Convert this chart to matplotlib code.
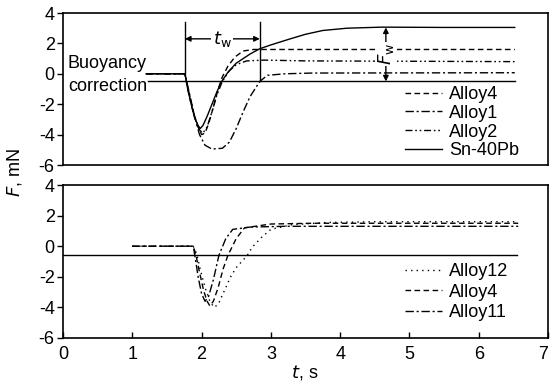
import numpy as np
import matplotlib
matplotlib.use("Agg")
import matplotlib.pyplot as plt

plt.rcParams["font.family"] = ["Liberation Sans", "DejaVu Sans"]
plt.rcParams["font.size"] = 13
plt.rcParams["axes.unicode_minus"] = False

# ---- top panel data (t in s, F in mN) ----
sn_t = [1.2, 1.76, 1.8, 1.85, 1.9, 1.95, 1.98, 2.02, 2.08, 2.15, 2.22, 2.29, 2.38, 2.5, 2.6, 2.7,
        2.84, 3.0, 3.28, 3.5, 3.75, 4.1, 4.6, 5.5, 6.52]
sn_f = [0, 0, -1.0, -2.0, -2.9, -3.4, -3.6, -3.4, -2.8, -2.0, -1.2, -0.5, 0.1, 0.7, 1.0, 1.3,
        1.65, 1.9, 2.3, 2.6, 2.85, 3.0, 3.07, 3.05, 3.05]

a4_t = [1.2, 1.76, 1.8, 1.86, 1.93, 2.0, 2.05, 2.1, 2.17, 2.24, 2.3, 2.38, 2.48, 2.6, 2.75, 3.2, 6.52]
a4_f = [0, 0, -1.0, -2.2, -3.3, -4.0, -3.9, -3.3, -2.2, -1.0, -0.2, 0.5, 1.1, 1.5, 1.6, 1.6, 1.6]

a1_t = [1.2, 1.76, 1.82, 1.9, 1.97, 2.05, 2.15, 2.3, 2.4, 2.5, 2.6, 2.7, 2.84, 2.95, 3.2, 3.6, 6.52]
a1_f = [0, 0, -1.2, -2.8, -4.0, -4.7, -4.95, -4.9, -4.5, -3.6, -2.5, -1.5, -0.5, -0.1, 0.0, 0.05, 0.07]

a2_t = [1.2, 1.76, 1.82, 1.9, 1.97, 2.02, 2.08, 2.15, 2.22, 2.3, 2.4, 2.5, 2.65, 2.9, 3.5, 6.52]
a2_f = [0, 0, -1.3, -2.8, -3.7, -3.9, -3.5, -2.5, -1.4, -0.5, 0.2, 0.6, 0.85, 0.9, 0.85, 0.8]

buoy_top = -0.5
tw_start, tw_end = 1.76, 2.84
fw_t = 4.66

# ---- bottom panel data ----
b12_t = [1.0, 1.88, 1.93, 1.98, 2.05, 2.12, 2.18, 2.24, 2.32, 2.42, 2.5, 2.66, 2.73, 2.87, 3.0, 3.3, 3.8, 4.5, 6.57]
b12_f = [0, 0, -0.5, -1.5, -2.7, -3.6, -4.0, -3.8, -3.0, -2.0, -1.4, -0.6, -0.07, 0.6, 1.1, 1.4, 1.55, 1.6, 1.6]

b4_t = [1.0, 1.88, 1.92, 1.97, 2.03, 2.08, 2.12, 2.17, 2.24, 2.31, 2.38, 2.5, 2.62, 3.0, 3.6, 6.57]
b4_f = [0, 0, -0.6, -1.7, -2.9, -3.6, -3.9, -3.6, -2.7, -1.5, -0.6, 0.5, 1.2, 1.45, 1.5, 1.5]

b11_t = [1.0, 1.88, 1.91, 1.95, 2.0, 2.05, 2.1, 2.17, 2.25, 2.35, 2.45, 2.7, 3.2, 6.57]
b11_f = [0, 0, -0.8, -2.0, -3.1, -3.6, -3.3, -2.2, -0.6, 0.5, 1.1, 1.25, 1.3, 1.3]

buoy_bot = -0.6

dash = (0, (4, 2.5))
dashdot = (0, (6, 2, 1.5, 2))
dashdotdot = (0, (5, 2, 1.2, 2, 1.2, 2))
dotted = (0, (1, 3))

fig = plt.figure(figsize=(5.51, 3.88), dpi=100)
ax1 = fig.add_axes([63 / 551, 1 - 165 / 388, 485 / 551, 152 / 388])
ax2 = fig.add_axes([63 / 551, 1 - 338 / 388, 485 / 551, 153 / 388])

lw = 1.0
ax1.plot(a4_t, a4_f, color="k", lw=lw, ls=dash, label="Alloy4")
ax1.plot(a1_t, a1_f, color="k", lw=lw, ls=dashdot, label="Alloy1")
ax1.plot(a2_t, a2_f, color="k", lw=lw, ls=dashdotdot, label="Alloy2")
ax1.plot(sn_t, sn_f, color="k", lw=lw, ls="-", label="Sn-40Pb")
ax1.plot([1.22, 6.52], [buoy_top, buoy_top], color="k", lw=lw)

# t_w markers
ax1.plot([tw_start, tw_start], [3.4, 0], color="k", lw=lw)
ax1.plot([tw_end, tw_end], [3.4, buoy_top], color="k", lw=lw)
ax1.annotate("", xy=(tw_start, 2.3), xytext=(tw_end, 2.3),
             arrowprops=dict(arrowstyle="<|-|>", color="k", lw=lw, shrinkA=0, shrinkB=0,
                             mutation_scale=8))
ax1.text((tw_start + tw_end) / 2, 2.3, r"$t_\mathrm{w}$", ha="center", va="center",
         fontsize=13, bbox=dict(fc="white", ec="none", pad=1))

# F_w marker
ax1.annotate("", xy=(fw_t, 3.05), xytext=(fw_t, buoy_top),
             arrowprops=dict(arrowstyle="<|-|>", color="k", lw=lw, shrinkA=0, shrinkB=0,
                             mutation_scale=8))
ax1.text(fw_t, 1.3, r"$F_\mathrm{w}$", ha="center", va="center", rotation=90,
         fontsize=13, bbox=dict(fc="white", ec="none", pad=0.5))

ax1.text(0.07, 0.65, "Buoyancy", ha="left", va="center", fontsize=13)
ax1.text(0.07, -0.85, "correction", ha="left", va="center", fontsize=13)

ax1.legend(loc="upper left", bbox_to_anchor=(0.706, 0.52), frameon=False,
           handlelength=2.0, handletextpad=0.4, labelspacing=0.1, borderaxespad=0,
           borderpad=0, fontsize=13)

ax2.plot(b12_t, b12_f, color="k", lw=lw, ls=dotted, label="Alloy12")
ax2.plot(b4_t, b4_f, color="k", lw=lw, ls=dash, label="Alloy4")
ax2.plot(b11_t, b11_f, color="k", lw=lw, ls=dashdot, label="Alloy11")
ax2.plot([0, 6.55], [buoy_bot, buoy_bot], color="k", lw=lw)
ax2.legend(loc="upper left", bbox_to_anchor=(0.706, 0.49), frameon=False,
           handlelength=2.0, handletextpad=0.4, labelspacing=0.2, borderaxespad=0,
           borderpad=0, fontsize=13)

for ax in (ax1, ax2):
    ax.set_xlim(0, 7)
    ax.set_ylim(-6, 4)
    ax.set_yticks([-6, -4, -2, 0, 2, 4])
    for s in ax.spines.values():
        s.set_linewidth(1.2)
    ax.tick_params(axis="y", direction="out", length=4, width=1, labelsize=13, pad=2)

ax1.set_xticks([])
ax2.set_xticks(range(0, 8))
ax2.tick_params(axis="x", direction="in", length=4, width=1, labelsize=13, pad=6)
ax2.get_xticklabels()[-1].set_ha("right")

fig.text(15 / 551, 1 - 173 / 388, r"$F$, mN", rotation=90, ha="center", va="center", fontsize=13)
fig.text(305 / 551, 1 - 372 / 388, r"$t$, s", ha="center", va="center", fontsize=13)

fig.savefig("out.png", dpi=100)
